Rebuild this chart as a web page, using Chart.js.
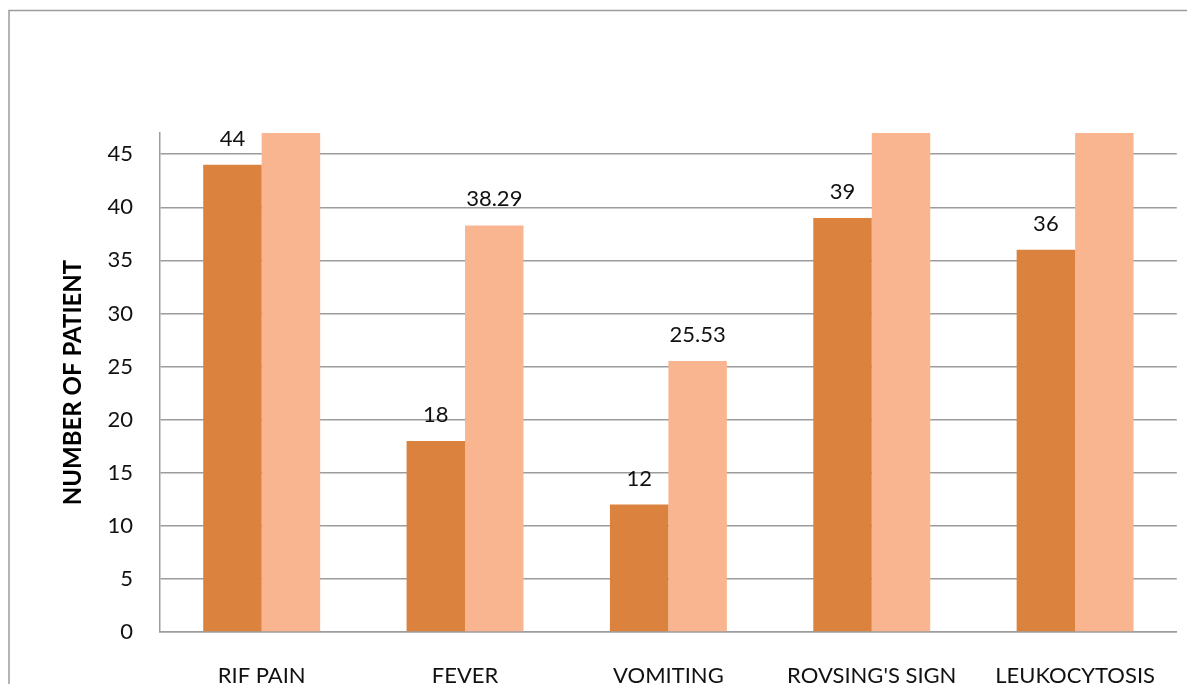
<!DOCTYPE html>
<html>
<head>
<meta charset="utf-8">
<script src="https://cdn.jsdelivr.net/npm/chart.js@4/dist/chart.umd.min.js"></script>
<style>
  html, body { margin: 0; padding: 0; background: #fff; overflow: hidden; }
  #wrap { width: 1187px; height: 720px; }
</style>
</head>
<body>
<div id="wrap"><canvas id="chart" width="1187" height="720"></canvas></div>
<script>
// symptom counts (of 47 patients) and their percentages
const categories = ['RIF PAIN', 'FEVER', 'VOMITING', "ROVSING'S SIGN", 'LEUKOCYTOSIS'];
const patientCounts = [44, 18, 12, 39, 36];
const percentValues = [93.62, 38.29, 25.53, 82.98, 76.60];
const yTicks = [0, 5, 10, 15, 20, 25, 30, 35, 40, 45];
const yMax = 47;

const FONT = 'Lato, "Open Sans", sans-serif';
const GRID = '#9c9c9c';

// outer frame of the chart object
const framePlugin = {
  id: 'frame',
  beforeDraw(chart) {
    const ctx = chart.ctx;
    ctx.save();
    ctx.fillStyle = '#fff';
    ctx.fillRect(0, 0, chart.width, chart.height);
    ctx.strokeStyle = GRID;
    ctx.lineWidth = 1.5;
    ctx.strokeRect(9, 10.5, chart.width + 20, chart.height + 20);
    ctx.restore();
  },
};

// value labels above the bars (skip the ones cut off by the axis max)
const valueLabels = {
  id: 'valueLabels',
  afterDatasetsDraw(chart) {
    const ctx = chart.ctx;
    ctx.save();
    ctx.font = '22px ' + FONT;
    ctx.fillStyle = '#111';
    ctx.textAlign = 'center';
    ctx.textBaseline = 'alphabetic';
    chart.data.datasets.forEach((ds, i) => {
      const meta = chart.getDatasetMeta(i);
      meta.data.forEach((bar, j) => {
        const v = ds.data[j];
        if (v > yMax) return;
        const txt = Number.isInteger(v) ? String(v) : v.toFixed(2);
        ctx.fillText(txt, bar.x, bar.y - 19);
      });
    });
    ctx.restore();
  },
};

new Chart(document.getElementById('chart'), {
  type: 'bar',
  data: {
    labels: categories,
    datasets: [
      {
        label: 'Number of patients',
        data: patientCounts,
        backgroundColor: '#db833e',
        borderWidth: 0,
        categoryPercentage: 0.575,
        barPercentage: 1,
      },
      {
        label: 'Percentage',
        data: percentValues,
        backgroundColor: '#f9b590',
        borderWidth: 0,
        categoryPercentage: 0.575,
        barPercentage: 1,
      },
    ],
  },
  options: {
    responsive: false,
    animation: false,
    layout: { padding: { left: 55, top: 133, right: 10, bottom: 28 } },
    plugins: {
      legend: { display: false },
      tooltip: { enabled: false },
    },
    scales: {
      x: {
        grid: { display: false, drawTicks: false },
        border: { display: true, color: GRID, width: 1.5 },
        ticks: { color: '#111', font: { family: FONT, size: 22 }, padding: 31, maxRotation: 0 },
        afterFit: (scale) => { scale.height = 60; },
      },
      y: {
        min: 0,
        max: yMax,
        afterBuildTicks: (scale) => { scale.ticks = yTicks.map((v) => ({ value: v })); },
        grid: { color: GRID, lineWidth: 1.5, drawTicks: false },
        border: { display: true, color: GRID, width: 1.5 },
        ticks: { color: '#111', font: { family: FONT, size: 22 }, padding: 27 },
        title: {
          display: true,
          text: 'NUMBER OF PATIENT',
          color: '#000',
          font: { family: FONT, size: 24, weight: 'bold' },
          padding: { top: 4, bottom: 0 },
        },
        afterFit: (scale) => { scale.width = 105; },
      },
    },
  },
  plugins: [framePlugin, valueLabels],
});
</script>
</body>
</html>
